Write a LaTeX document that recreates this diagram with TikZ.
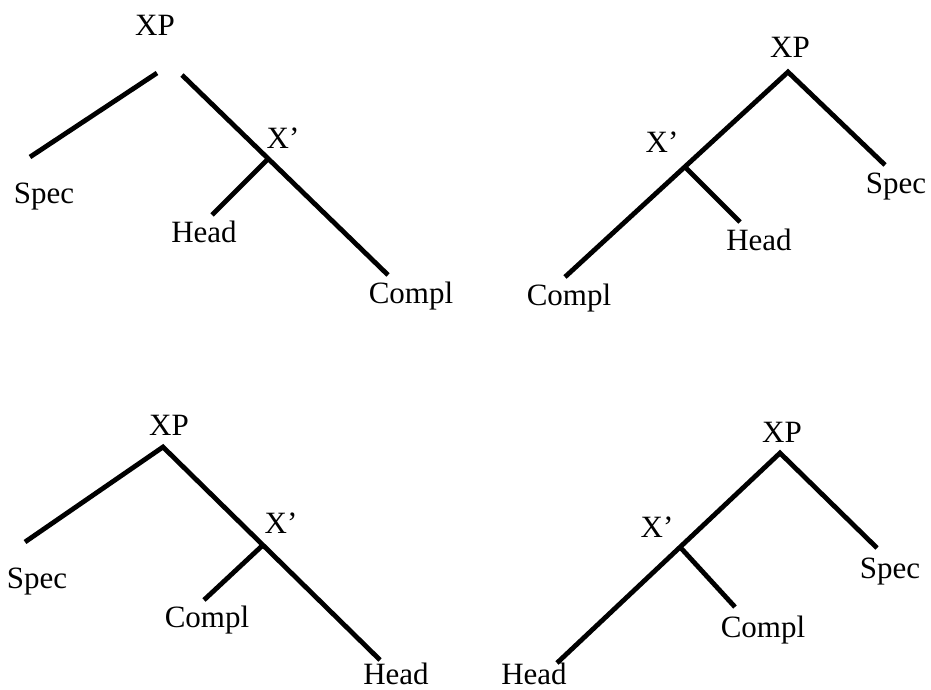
\documentclass[tikz,border=0pt]{standalone}
\usepackage{fontspec}
\setmainfont{Liberation Serif}
\begin{document}
\begin{tikzpicture}[x=1pt,y=-1pt,
  lbl/.style={anchor=base,inner sep=0pt,font=\fontsize{31}{36}\selectfont},
  branch/.style={line width=4.8pt}]
\useasboundingbox (0,0) rectangle (931,690);
% ---------- Tree 1 ----------
\node[lbl] (xp1) at (155,36) {XP};
\node[lbl] (xb1) at (283,148) {X’};
\node[lbl] (sp1) at (44,203) {Spec};
\node[lbl] (hd1) at (204,242) {Head};
\node[lbl] (cp1) at (411,303) {Compl};
\coordinate (a1l) at (157,73);
\coordinate (a1r) at (182,75);
\coordinate (s1) at (30,157);
\coordinate (c1) at (388,275);
\coordinate (j1) at (268,159);
\coordinate (h1) at (212,215);
\draw[branch] (a1l) -- (s1);
\draw[branch] (a1r) -- (c1);
\draw[branch] (j1) -- (h1);
% ---------- Tree 2 ----------
\node[lbl] (xp2) at (790,58) {XP};
\node[lbl] (xb2) at (662,153) {X’};
\node[lbl] (sp2) at (896,193) {Spec};
\node[lbl] (hd2) at (759,250) {Head};
\node[lbl] (cp2) at (569,305) {Compl};
\coordinate (a2) at (788,72);
\coordinate (s2) at (885,165);
\coordinate (c2) at (565,277);
\coordinate (j2) at (685,167);
\coordinate (h2) at (740,222);
\draw[branch] (c2) -- (a2) -- (s2);
\draw[branch] (j2) -- (h2);
% ---------- Tree 3 ----------
\node[lbl] (xp3) at (169,435) {XP};
\node[lbl] (xb3) at (281,533) {X’};
\node[lbl] (sp3) at (37,588) {Spec};
\node[lbl] (cp3) at (207,627) {Compl};
\node[lbl] (hd3) at (396,684) {Head};
\coordinate (a3) at (163,447);
\coordinate (s3) at (25,542);
\coordinate (h3) at (380,660);
\coordinate (j3) at (263,545);
\coordinate (c3) at (204,600);
\draw[branch] (s3) -- (a3) -- (h3);
\draw[branch] (j3) -- (c3);
% ---------- Tree 4 ----------
\node[lbl] (xp4) at (782,442) {XP};
\node[lbl] (xb4) at (657,537) {X’};
\node[lbl] (sp4) at (890,578) {Spec};
\node[lbl] (cp4) at (763,637) {Compl};
\node[lbl] (hd4) at (534,684) {Head};
\coordinate (a4) at (780,453);
\coordinate (s4) at (877,548);
\coordinate (h4) at (557,663);
\coordinate (j4) at (680,547);
\coordinate (c4) at (735,607);
\draw[branch] (h4) -- (a4) -- (s4);
\draw[branch] (j4) -- (c4);
\end{tikzpicture}
\end{document}
